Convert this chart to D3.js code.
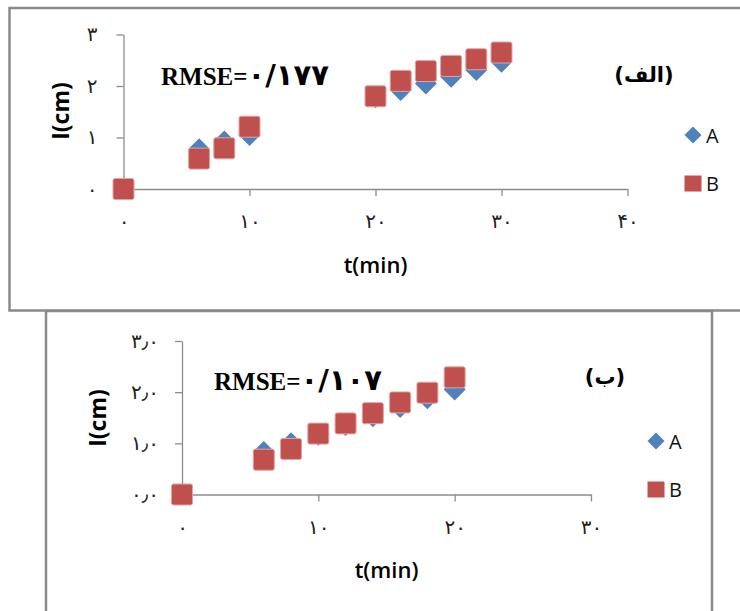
<!DOCTYPE html>
<html>
<head>
<meta charset="utf-8">
<script src="https://cdn.jsdelivr.net/npm/d3@7"></script>
<style>
  body { margin: 0; background: #fff; }
  svg { display: block; }
</style>
</head>
<body>
<svg width="740" height="611"></svg>
<script>
// Data, panel (الف)
const times1 = [0, 6, 8, 10, 20, 22, 24, 26, 28, 30];
const seriesA1 = [0, 0.77, 0.92, 1.05, 1.78, 1.92, 2.05, 2.18, 2.31, 2.47];
const seriesB1 = [0, 0.59, 0.79, 1.21, 1.80, 2.10, 2.29, 2.39, 2.52, 2.65];
const xTicks1 = [0, 10, 20, 30, 40];
const xLabels1 = ["۰", "۱۰", "۲۰", "۳۰", "۴۰"];
const yTicks1 = [0, 1, 2, 3];
const yLabels1 = ["۰", "۱", "۲", "۳"];

// Data, panel (ب)
const times2 = [0, 6, 8, 10, 12, 14, 16, 18, 20];
const seriesA2 = [0, 0.83, 1.00, 1.17, 1.36, 1.53, 1.71, 1.88, 2.05];
const seriesB2 = [0, 0.68, 0.89, 1.19, 1.39, 1.59, 1.80, 1.99, 2.29];
const xTicks2 = [0, 10, 20, 30];
const xLabels2 = ["۰", "۱۰", "۲۰", "۳۰"];
const yTicks2 = [0, 1, 2, 3];
const yLabels2 = ["۰٫۰", "۱٫۰", "۲٫۰", "۳٫۰"];

const seriesNames = ["A", "B"];
const colorA = "#4f81bd", colorB = "#c0504d";

let svg = d3.select("svg");

// panel frames
svg.append("path")
    .attr("d", "M745,8 H9.5 V310.5 H745")
    .attr("fill", "none").attr("stroke", "#8a8a8a").attr("stroke-width", 2.5);
svg.append("path")
    .attr("d", "M46,615 V311 H712 V615")
    .attr("fill", "none").attr("stroke", "#8a8a8a").attr("stroke-width", 2.5);

// diamond that is a square turned 45deg
let diamond = {
  draw(context, size) {
    let r = Math.sqrt(size) / 2;
    context.moveTo(0, -r); context.lineTo(r, 0);
    context.lineTo(0, r); context.lineTo(-r, 0);
    context.closePath();
  }
};

function drawPanel(o) {
  let x = d3.scaleLinear().domain([0, o.xMax]).range(o.xRange);
  let y = d3.scaleLinear().domain([0, 3]).range(o.yRange);
  let g = svg.append("g");

  // axes
  let xAxis = d3.axisBottom(x).tickValues(o.xTicks)
      .tickFormat((d, i) => o.xLabels[i])
      .tickSize(7).tickSizeOuter(0).tickPadding(18);
  let yAxis = d3.axisLeft(y).tickValues(o.yTicks)
      .tickFormat((d, i) => o.yLabels[i])
      .tickSize(7).tickSizeOuter(0).tickPadding(o.yPad);
  let gx = g.append("g").attr("transform", `translate(0,${o.yRange[0]})`).call(xAxis);
  let gy = g.append("g").attr("transform", `translate(${o.xRange[0]},0)`).call(yAxis);
  [gx, gy].forEach(a => {
    a.select(".domain").attr("stroke", "#8c8c8c").attr("stroke-width", 1.3);
    a.selectAll(".tick line").attr("stroke", "#8c8c8c").attr("stroke-width", 1.3);
    a.selectAll(".tick text").attr("fill", "#222")
        .style("font-family", "'DejaVu Sans', sans-serif").style("font-size", "20px");
  });
  gx.selectAll(".tick:first-child line").remove();

  // series A
  g.append("g").selectAll("path")
    .data(o.times)
    .join("path")
      .attr("d", d3.symbol().type(diamond).size(22 * 22))
      .attr("transform", (d, i) => `translate(${x(d)},${y(o.a[i])})`)
      .attr("fill", colorA);

  // series B
  g.append("g").selectAll("rect")
    .data(o.times)
    .join("rect")
      .attr("x", d => x(d) - 10.5)
      .attr("y", (d, i) => y(o.b[i]) - 10.5)
      .attr("width", 21).attr("height", 21).attr("rx", 2)
      .attr("fill", colorB).attr("stroke", "#e3a3a1").attr("stroke-width", 1);

  // axis titles
  g.append("text")
    .attr("transform", `translate(${o.yTitle[0]},${o.yTitle[1]}) rotate(-90)`)
    .attr("text-anchor", "middle").attr("dominant-baseline", "central")
    .style("font-family", "'Open Sans', sans-serif").style("font-weight", 700).style("font-size", "23px")
    .text("I(cm)");
  g.append("text")
    .attr("x", (o.xRange[0] + o.xRange[1]) / 2).attr("y", o.xTitleY)
    .attr("text-anchor", "middle").attr("dominant-baseline", "central")
    .style("font-family", "'Open Sans', sans-serif").style("font-weight", 600).style("font-size", "22px")
    .text("t(min)");

  // RMSE note and panel tag
  let note = g.append("text")
    .attr("x", o.rmse[0]).attr("y", o.rmse[1])
    .style("font-family", "'Liberation Serif', serif").style("font-weight", 700).style("font-size", "25px");
  note.append("tspan").text("RMSE=");
  note.append("tspan")
    .style("font-family", "'DejaVu Sans', sans-serif").style("font-size", "29px")
    .text(o.rmseValue);
  g.append("text")
    .attr("x", o.tag[0]).attr("y", o.tag[1])
    .attr("text-anchor", "middle").attr("dominant-baseline", "central")
    .attr("direction", "rtl").style("unicode-bidi", "embed")
    .style("font-family", "'DejaVu Sans', sans-serif").style("font-weight", 700).style("font-size", "21px")
    .text(o.tagText);

  // legend
  let lg = g.append("g").attr("transform", `translate(${o.legend[0]},${o.legend[1]})`);
  let item = lg.selectAll("g").data(seriesNames).join("g")
      .attr("transform", (d, i) => `translate(0,${i * 48.5})`);
  item.filter(d => d == "A").append("path")
      .attr("d", d3.symbol().type(diamond).size(17 * 17)).attr("fill", colorA);
  item.filter(d => d == "B").append("rect")
      .attr("x", -8.5).attr("y", -8).attr("width", 17).attr("height", 16).attr("fill", colorB);
  item.append("text")
      .attr("x", 13).attr("dominant-baseline", "central")
      .style("font-family", "'Open Sans', sans-serif").style("font-size", "20px").attr("fill", "#111")
      .text(d => d);
}

drawPanel({
  times: times1, a: seriesA1, b: seriesB1, xMax: 40,
  xTicks: xTicks1, xLabels: xLabels1, yTicks: yTicks1, yLabels: yLabels1,
  xRange: [123.5, 627.5], yRange: [189, 34.5], yPad: 19,
  yTitle: [60, 111], xTitleY: 264,
  rmse: [161, 85], rmseValue: "۰/۱۷۷",
  tag: [644, 75], tagText: "(الف)",
  legend: [693, 135]
});

drawPanel({
  times: times2, a: seriesA2, b: seriesB2, xMax: 30,
  xTicks: xTicks2, xLabels: xLabels2, yTicks: yTicks2, yLabels: yLabels2,
  xRange: [182, 591], yRange: [494.5, 341], yPad: 16,
  yTitle: [97, 418], xTitleY: 569,
  rmse: [214, 390], rmseValue: "۰/۱۰۷",
  tag: [605, 377], tagText: "(ب)",
  legend: [656, 441]
});
</script>
</body>
</html>
